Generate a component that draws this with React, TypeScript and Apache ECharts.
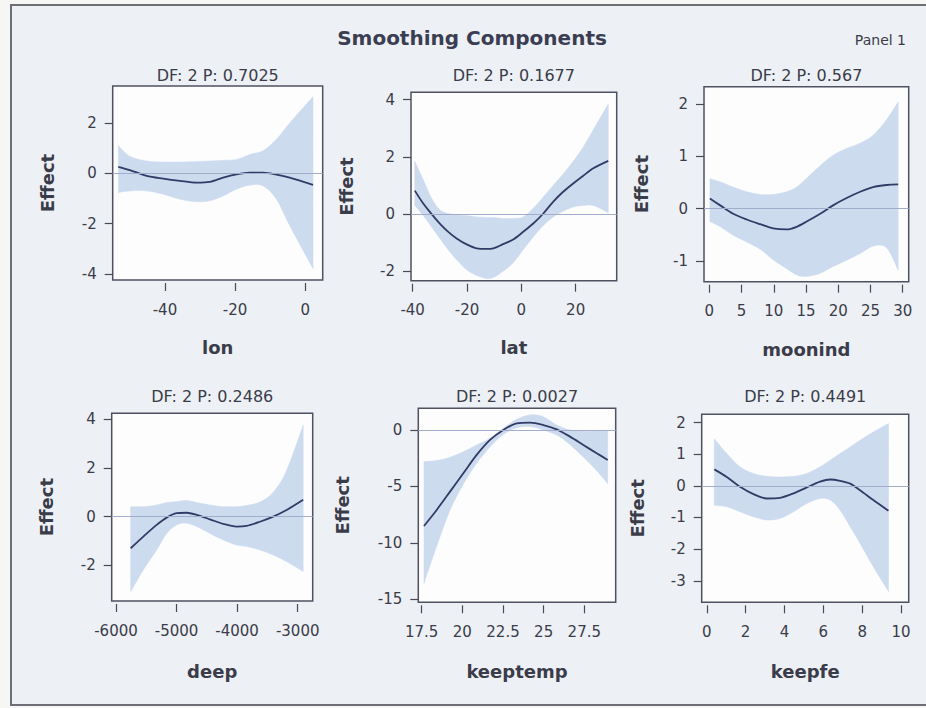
import React, { useEffect, useRef } from "react";
import * as echarts from "echarts";

const FONT = "'DejaVu Sans', 'Liberation Sans', Arial, sans-serif";

// ---- lon ----
const lonX = [-53.3, -50, -45.2, -40.5, -35.7, -31, -27.2, -23.4, -19.6, -15.8, -12, -8.2, -4.4, 2.25];
const lonFit = [0.26, 0.13, -0.1, -0.21, -0.3, -0.37, -0.34, -0.17, -0.04, 0.03, 0.03, -0.05, -0.17, -0.46];
const lonUpper = [1.1, 0.68, 0.49, 0.45, 0.45, 0.47, 0.49, 0.52, 0.55, 0.75, 0.9, 1.35, 2.0, 3.05];
const lonLower = [-0.76, -0.7, -0.7, -0.83, -1.03, -1.13, -1.09, -0.9, -0.63, -0.47, -0.5, -1.03, -2.08, -3.79];

// ---- lat ----
const latX = [-39.2, -36.1, -33, -30, -26.9, -23.8, -20.1, -16.4, -12.8, -10.3, -6.7, -3, 0.7, 4.4, 8.1, 11.7, 15.4, 19.1, 22.8, 26.5, 32];
const latFit = [0.82, 0.37, 0, -0.33, -0.62, -0.85, -1.06, -1.2, -1.22, -1.2, -1.05, -0.89, -0.62, -0.33, 0.02, 0.43, 0.78, 1.07, 1.34, 1.6, 1.86];
const latUpper = [1.85, 1.2, 0.55, 0.15, 0.02, -0.02, -0.05, -0.1, -0.12, -0.12, -0.15, -0.15, -0.1, 0.2, 0.6, 1.0, 1.4, 1.85, 2.35, 2.95, 3.85];
const latLower = [0.3, -0.05, -0.45, -0.85, -1.25, -1.6, -1.95, -2.15, -2.25, -2.22, -2.0, -1.7, -1.25, -0.8, -0.4, -0.1, 0.1, 0.25, 0.3, 0.3, 0.05];

// ---- moonind ----
const moonX = [0.1, 1.7, 3.7, 5.8, 7.9, 9.9, 12, 13.55, 15.1, 17.2, 19.2, 21.3, 23.4, 25.4, 27.5, 29.3];
const moonFit = [0.19, 0.06, -0.1, -0.21, -0.3, -0.38, -0.4, -0.35, -0.25, -0.1, 0.06, 0.2, 0.32, 0.41, 0.45, 0.46];
const moonUpper = [0.57, 0.51, 0.41, 0.32, 0.27, 0.27, 0.32, 0.41, 0.58, 0.82, 1.02, 1.15, 1.25, 1.4, 1.7, 2.04];
const moonLower = [-0.25, -0.35, -0.51, -0.64, -0.78, -0.98, -1.15, -1.27, -1.3, -1.24, -1.11, -0.99, -0.86, -0.72, -0.75, -1.18];

// ---- deep ----
const deepX = [-5758, -5549, -5328, -5163, -4998, -4833, -4668, -4449, -4229, -4009, -3844, -3624, -3404, -3183, -2909];
const deepFit = [-1.3, -0.82, -0.34, -0.04, 0.14, 0.16, 0.07, -0.11, -0.3, -0.41, -0.38, -0.21, 0, 0.27, 0.69];
const deepUpper = [0.41, 0.41, 0.48, 0.58, 0.62, 0.66, 0.58, 0.48, 0.41, 0.41, 0.46, 0.6, 1.0, 1.9, 3.77];
const deepLower = [-3.09, -2.19, -1.37, -0.69, -0.34, -0.27, -0.41, -0.69, -0.96, -1.17, -1.23, -1.37, -1.58, -1.85, -2.26];

// ---- keeptemp ----
const tempX = [17.64, 18.42, 19.24, 20.06, 20.88, 21.7, 22.52, 23.34, 24.16, 24.98, 25.8, 26.62, 27.44, 28.26, 28.94];
const tempFit = [-8.5, -7.08, -5.46, -3.83, -2.21, -0.88, 0, 0.59, 0.65, 0.44, 0.06, -0.59, -1.33, -2.06, -2.65];
const tempUpper = [-2.8, -2.71, -2.42, -1.92, -1.33, -0.74, 0.15, 0.94, 1.33, 1.18, 0.44, 0.0, -0.1, -0.1, -0.1];
const tempLower = [-13.6, -10.3, -7.1, -4.8, -2.95, -1.5, -0.4, 0.2, 0.3, 0.0, -0.45, -1.3, -2.4, -3.6, -4.75];

// ---- keepfe ----
const feX = [0.39, 1.03, 1.71, 2.4, 3.09, 3.77, 4.46, 5.15, 5.83, 6.35, 6.86, 7.38, 7.89, 8.57, 9.35];
const feFit = [0.52, 0.28, -0.03, -0.26, -0.4, -0.38, -0.24, -0.05, 0.13, 0.2, 0.16, 0.07, -0.14, -0.45, -0.79];
const feUpper = [1.49, 1.02, 0.6, 0.39, 0.3, 0.28, 0.3, 0.39, 0.6, 0.81, 1.02, 1.23, 1.44, 1.7, 1.97];
const feLower = [-0.61, -0.66, -0.82, -0.98, -1.08, -1.03, -0.82, -0.56, -0.4, -0.45, -0.77, -1.29, -1.82, -2.56, -3.34];

// tick values for each panel
const lonTicks = [-40, -20, 0];
const latTicks = [-40, -20, 0, 20];
const moonTicks = [0, 5, 10, 15, 20, 25, 30];
const deepTicks = [-6000, -5000, -4000, -3000];
const tempTicks = [17.5, 20, 22.5, 25, 27.5];
const feTicks = [0, 2, 4, 6, 8, 10];

const lonEffectTicks = [-4, -2, 0, 2];
const latEffectTicks = [-2, 0, 2, 4];
const moonEffectTicks = [-1, 0, 1, 2];
const deepEffectTicks = [-2, 0, 2, 4];
const tempEffectTicks = [-15, -10, -5, 0];
const feEffectTicks = [-3, -2, -1, 0, 1, 2];

const variables = ["lon", "lat", "moonind", "deep", "keeptemp", "keepfe"];
const dfValues = [2, 2, 2, 2, 2, 2];
const pValues = ["0.7025", "0.1677", "0.567", "0.2486", "0.0027", "0.4491"];

const panels = [
  { x: lonX, fit: lonFit, lo: lonLower, hi: lonUpper, xt: lonTicks, yt: lonEffectTicks, xr: [-54.9, 5.0], yr: [-4.24, 3.47],
    box: { l: 112.7, t: 86, w: 210, h: 194 }, yGap: 56, xGap: 55, subY: 75 },
  { x: latX, fit: latFit, lo: latLower, hi: latUpper, xt: latTicks, yt: latEffectTicks, xr: [-40.6, 35.1], yr: [-2.33, 4.26],
    box: { l: 411, t: 92.3, w: 205.7, h: 188.4 }, yGap: 56, xGap: 54.5, subY: 75 },
  { x: moonX, fit: moonFit, lo: moonLower, hi: moonUpper, xt: moonTicks, yt: moonEffectTicks, xr: [-0.82, 30.93], yr: [-1.4, 2.33],
    box: { l: 704, t: 86.7, w: 204.7, h: 195 }, yGap: 54, xGap: 55.5, subY: 75 },
  { x: deepX, fit: deepFit, lo: deepLower, hi: deepUpper, xt: deepTicks, yt: deepEffectTicks, xr: [-6071, -2752], yr: [-3.47, 4.25],
    box: { l: 111.7, t: 413.3, w: 201, h: 187.7 }, yGap: 56.5, xGap: 58, subY: 396.7 },
  { x: tempX, fit: tempFit, lo: tempLower, hi: tempUpper, xt: tempTicks, yt: tempEffectTicks, xr: [17.29, 29.43], yr: [-15.26, 1.92],
    box: { l: 418.3, t: 408.3, w: 197.4, h: 194 }, yGap: 67, xGap: 56.7, subY: 396.7 },
  { x: feX, fit: feFit, lo: feLower, hi: feUpper, xt: feTicks, yt: feEffectTicks, xr: [-0.26, 10.39], yr: [-3.68, 2.26],
    box: { l: 701.7, t: 414.3, w: 207, h: 188 }, yGap: 55, xGap: 56.7, subY: 396.7 },
];

const BAND = "#cddbef";
const LINE = "#323a66";
const TEXT = "#3a3c4a";

// Catmull-Rom spline through pixel points, written as cubic Bézier commands
function splineSegments(pts: number[][]): string {
  let d = "";
  const n = pts.length;
  for (let i = 0; i < n - 1; i++) {
    const p0 = pts[Math.max(i - 1, 0)];
    const p1 = pts[i];
    const p2 = pts[i + 1];
    const p3 = pts[Math.min(i + 2, n - 1)];
    const c1x = p1[0] + (p2[0] - p0[0]) / 6;
    const c1y = p1[1] + (p2[1] - p0[1]) / 6;
    const c2x = p2[0] - (p3[0] - p1[0]) / 6;
    const c2y = p2[1] - (p3[1] - p1[1]) / 6;
    d += ` C ${c1x} ${c1y} ${c2x} ${c2y} ${p2[0]} ${p2[1]}`;
  }
  return d;
}

function bandRenderer(xs: number[], lo: number[], hi: number[]) {
  return (params: any, api: any) => {
    if (params.dataIndex !== 0) return null;
    const top = xs.map((x, k) => api.coord([x, hi[k]]));
    const bottom = xs.map((x, k) => api.coord([x, lo[k]])).reverse();
    const d =
      `M ${top[0][0]} ${top[0][1]}` +
      splineSegments(top) +
      ` L ${bottom[0][0]} ${bottom[0][1]}` +
      splineSegments(bottom) +
      " Z";
    return {
      type: "path",
      shape: { pathData: d },
      style: { fill: BAND, stroke: BAND, lineWidth: 0.5 },
    };
  };
}

function buildOption() {
  const grid: any[] = [];
  const xAxis: any[] = [];
  const yAxis: any[] = [];
  const series: any[] = [];
  const graphic: any[] = [];

  graphic.push({
    type: "rect",
    z: -10,
    shape: { x: 11, y: 5, width: 940, height: 700 },
    style: { fill: "#edf0f4", stroke: "#6e6e76", lineWidth: 2 },
    silent: true,
  });
  graphic.push({
    type: "text",
    x: 472,
    y: 38,
    style: {
      text: "Smoothing Components",
      font: `bold 20px ${FONT}`,
      fill: "#3b3e52",
      align: "center",
      verticalAlign: "middle",
    },
  });
  graphic.push({
    type: "text",
    x: 906,
    y: 40,
    style: {
      text: "Panel 1",
      font: `14px ${FONT}`,
      fill: TEXT,
      align: "right",
      verticalAlign: "middle",
    },
  });

  panels.forEach((p, i) => {
    grid.push({
      left: p.box.l,
      top: p.box.t,
      width: p.box.w,
      height: p.box.h,
      show: true,
      backgroundColor: "#fdfdfe",
      borderColor: "#4f5060",
      borderWidth: 1.5,
      containLabel: false,
    });
    xAxis.push({
      type: "value",
      gridIndex: i,
      min: p.xr[0],
      max: p.xr[1],
      offset: 3,
      name: variables[i],
      nameLocation: "middle",
      nameGap: p.xGap,
      nameTextStyle: { fontFamily: FONT, fontWeight: "bold", fontSize: 18, color: TEXT },
      axisLine: { show: false, onZero: false },
      splitLine: { show: false },
      axisTick: { show: true, length: 8, customValues: p.xt, lineStyle: { color: "#4a4a55", width: 1.2 } },
      axisLabel: {
        customValues: p.xt,
        margin: 19,
        fontFamily: FONT,
        fontSize: 15,
        color: TEXT,
        formatter: (v: number) => String(v),
      },
    });
    yAxis.push({
      type: "value",
      gridIndex: i,
      min: p.yr[0],
      max: p.yr[1],
      name: "Effect",
      nameLocation: "middle",
      nameRotate: 90,
      nameGap: p.yGap,
      nameTextStyle: { fontFamily: FONT, fontWeight: "bold", fontSize: 18, color: TEXT },
      axisLine: { show: false, onZero: false },
      splitLine: { show: false },
      axisTick: { show: true, length: 8, customValues: p.yt, lineStyle: { color: "#4a4a55", width: 1.2 } },
      axisLabel: {
        customValues: p.yt,
        margin: 16,
        fontFamily: FONT,
        fontSize: 15,
        color: TEXT,
        formatter: (v: number) => String(v),
      },
    });
    // confidence band
    series.push({
      type: "custom",
      xAxisIndex: i,
      yAxisIndex: i,
      clip: true,
      z: 1,
      silent: true,
      renderItem: bandRenderer(p.x, p.lo, p.hi),
      data: p.x.map((x, k) => [x, p.lo[k], p.hi[k]]),
      encode: { x: 0, y: [1, 2] },
    });
    // fitted smooth with the zero reference line
    series.push({
      type: "line",
      xAxisIndex: i,
      yAxisIndex: i,
      z: 3,
      smooth: 0.3,
      showSymbol: false,
      symbol: "none",
      silent: true,
      clip: true,
      lineStyle: { color: LINE, width: 1.8 },
      data: p.x.map((x, k) => [x, p.fit[k]]),
      markLine: {
        silent: true,
        symbol: "none",
        label: { show: false },
        lineStyle: { color: "#a3acca", width: 1, type: "solid" },
        data: [{ yAxis: 0 }],
      },
    });
    graphic.push({
      type: "text",
      x: p.box.l + p.box.w / 2,
      y: p.subY,
      style: {
        text: `DF: ${dfValues[i]} P: ${pValues[i]}`,
        font: `16px ${FONT}`,
        fill: TEXT,
        align: "center",
        verticalAlign: "middle",
      },
    });
  });

  return {
    animation: false,
    backgroundColor: "#f6f6f4",
    grid,
    xAxis,
    yAxis,
    series,
    graphic,
  };
}

export default function App() {
  const ref = useRef<HTMLDivElement>(null);
  useEffect(() => {
    if (!ref.current) return;
    const chart = echarts.init(ref.current, undefined, { renderer: "svg" });
    chart.setOption(buildOption() as any);
    return () => chart.dispose();
  }, []);
  return (
    <div
      ref={ref}
      style={{ position: "fixed", left: 0, top: 0, width: 926, height: 708 }}
    />
  );
}
